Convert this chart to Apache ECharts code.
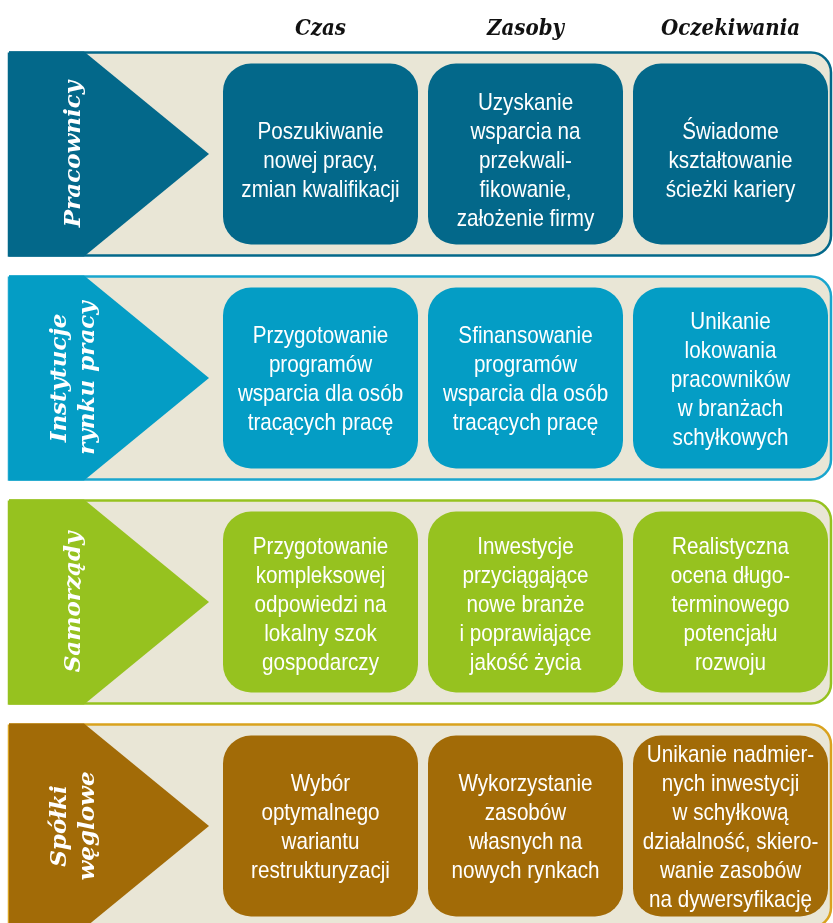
<!DOCTYPE html>
<html>
<head>
<meta charset="utf-8">
<script src="https://cdn.jsdelivr.net/npm/echarts@6/dist/echarts.min.js"></script>
<style>
html,body{margin:0;padding:0;background:#fff;}
#chart{width:833px;height:923px;}
</style>
</head>
<body>
<div id="chart"></div>
<script>
// ---- data ----
const columns = ['Czas', 'Zasoby', 'Oczekiwania'];
const rows = ['Pracownicy', 'Instytucje\nrynku pracy', 'Samorządy', 'Spółki\nwęglowe'];
const rowColors = ['#03688A', '#049DC5', '#96C21F', '#A26B07'];
const borderColors = ['#03688A', '#1AA6CE', '#96C21F', '#D9A21E'];
const cellsPracownicy = [
  'Poszukiwanie\nnowej pracy,\nzmian kwalifikacji',
  'Uzyskanie\nwsparcia na\nprzekwali-\nfikowanie,\nzałożenie firmy',
  'Świadome\nkształtowanie\nścieżki kariery'
];
const cellsInstytucje = [
  'Przygotowanie\nprogramów\nwsparcia dla osób\ntracących pracę',
  'Sfinansowanie\nprogramów\nwsparcia dla osób\ntracących pracę',
  'Unikanie\nlokowania\npracowników\nw branżach\nschyłkowych'
];
const cellsSamorzady = [
  'Przygotowanie\nkompleksowej\nodpowiedzi na\nlokalny szok\ngospodarczy',
  'Inwestycje\nprzyciągające\nnowe branże\ni poprawiające\njakość życia',
  'Realistyczna\nocena długo-\nterminowego\npotencjału\nrozwoju'
];
const cellsSpolki = [
  'Wybór\noptymalnego\nwariantu\nrestrukturyzacji',
  'Wykorzystanie\nzasobów\nwłasnych na\nnowych rynkach',
  'Unikanie nadmier-\nnych inwestycji\nw schyłkową\ndziałalność, skiero-\nwanie zasobów\nna dywersyfikację'
];
const cellRows = [cellsPracownicy, cellsInstytucje, cellsSamorzady, cellsSpolki];

// ---- style helpers (not data) ----
const textShift = [5, 0, 1, 0];

// ---- build series data ----
const bandData = rows.map((r, i) => [0, i, r]);
const cellData = [];
cellRows.forEach((arr, ri) => arr.forEach((t, ci) => cellData.push([ci, ri, t])));

const chart = echarts.init(document.getElementById('chart'), null, {renderer: 'canvas'});

const option = {
  backgroundColor: '#ffffff',
  animation: false,
  grid: {left: 218, right: 0, top: 42, bottom: -15, outerBoundsMode: 'none', containLabel: false},
  xAxis: {
    type: 'category', data: columns, position: 'top',
    axisLine: {show: false}, axisTick: {show: false}, splitLine: {show: false},
    axisLabel: {
      margin: 2, color: '#111',
      fontFamily: 'DejaVu Serif Condensed, DejaVu Serif', fontStyle: 'italic', fontWeight: 'bold', fontSize: 22
    }
  },
  yAxis: {
    type: 'category', data: rows, inverse: true,
    axisLine: {show: false}, axisTick: {show: false}, splitLine: {show: false},
    axisLabel: {show: false}
  },
  series: [
    {
      type: 'custom', clip: false, data: bandData,
      encode: {x: 0, y: 1},
      renderItem: function (params, api) {
        const i = api.value(1);
        const cs = params.coordSys;
        const c = api.coord([0, i]);
        const bh = api.size([0, 1])[1];
        const h = bh - 19;
        const top = c[1] - h / 2;
        const left = cs.x - 209;
        const right = cs.x + cs.width - 2;
        const blockR = cs.x - 134;
        const apex = cs.x - 9;
        return {
          type: 'group',
          children: [
            {type: 'rect', shape: {x: left, y: top + 1, width: right - left, height: h - 2, r: [0, 20, 20, 0]},
             style: {fill: '#E9E6D6', stroke: borderColors[i], lineWidth: 2.5}},
            {type: 'polygon', shape: {points: [[left, top], [blockR, top], [apex, c[1]], [blockR, top + h], [left, top + h]]},
             style: {fill: rowColors[i]}},
            {type: 'text', x: cs.x - 144, y: c[1], rotation: Math.PI / 2,
             style: {text: rows[i], align: 'center', verticalAlign: 'middle', fill: '#fff',
                     font: 'italic bold 23px "DejaVu Serif"', lineHeight: 28}}
          ]
        };
      }
    },
    {
      type: 'custom', clip: false, data: cellData,
      encode: {x: 0, y: 1},
      renderItem: function (params, api) {
        const ci = api.value(0), ri = api.value(1);
        const c = api.coord([ci, ri]);
        const s = api.size([1, 1]);
        const w = s[0] - 10, h = s[1] - 43;
        return {
          type: 'group',
          children: [
            {type: 'rect', shape: {x: c[0] - w / 2, y: c[1] - h / 2, width: w, height: h, r: 28},
             style: {fill: rowColors[ri]}},
            {type: 'text', x: c[0], y: c[1] + 2 + textShift[ri], scaleX: 0.86,
             style: {text: cellRows[ri][ci], align: 'center', verticalAlign: 'middle', fill: '#fff',
                     font: '24px "Liberation Sans", Arial, sans-serif', lineHeight: 29}}
          ]
        };
      }
    }
  ]
};
chart.setOption(option);
</script>
</body>
</html>
